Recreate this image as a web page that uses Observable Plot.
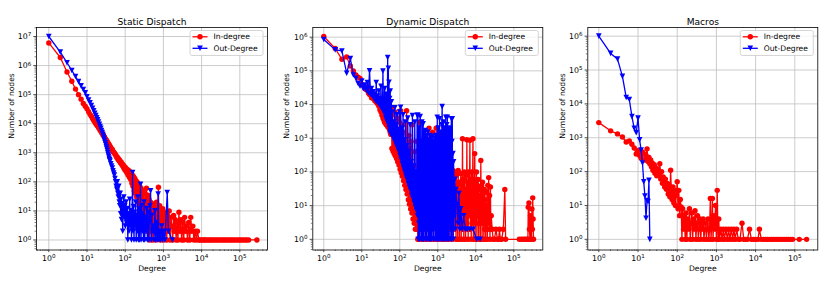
<!DOCTYPE html>
<html><head><meta charset="utf-8">
<script src="https://cdn.jsdelivr.net/npm/d3@7"></script>
<script src="https://cdn.jsdelivr.net/npm/@observablehq/plot@0.6"></script>
<style>
body{margin:0;background:#fff;}
#fig{position:relative;width:831px;height:282px;overflow:hidden;background:#fff;}
.panel{position:absolute;top:0;}
</style></head><body><div id="fig"></div>
<script>
const seriesNames = ["In-degree", "Out-Degree"];
const panelTitles = ["Static Dispatch", "Dynamic Dispatch", "Macros"];
const xLabel = "Degree";
const yLabel = "Number of nodes";
const xTickValues = [1, 10, 100, 1e3, 1e4, 1e5];
const yTickValues7 = [1, 10, 100, 1e3, 1e4, 1e5, 1e6, 1e7];
const yTickValues6 = [1, 10, 100, 1e3, 1e4, 1e5, 1e6];

// Static Dispatch
const staticIn = [[1,6.0e6],[2,1.9e6],[3,6.0e5],[4,2.9e5],[5,1.55e5],[6,1.0e5],[7,7.0e4],[8,5.0e4],[9,4.0e4],[10,3.3e4],[11,2.6e4],[12,2.1e4],[13,1.8e4],[14,1.5e4],[15,1.3e4],[16,1.15e4],[17,1.0e4],[18,9.0e3],[19,8.4e3],[20,7.4e3],[21,6.9e3],[22,6.0e3],[23,5.7e3],[24,5.0e3],[25,4.8e3],[26,4.2e3],[27,4.0e3],[28,3.6e3],[29,3.4e3],[30,3.0e3],[31,2.9e3],[32,2.6e3],[33,2.6e3],[34,2.3e3],[35,2.2e3],[36,2.1e3],[37,1.9e3],[38,1.9e3],[39,1.7e3],[40,1.7e3],[42,1.5e3],[44,1.35e3],[46,1.3e3],[48,1.1e3],[50,1.05e3],[52,980],[54,900],[56,860],[58,760],[60,740],[62,650],[64,680],[66,580],[68,600],[70,520],[72,540],[75,450],[78,480],[80,400],[83,420],[86,350],[89,380],[92,300],[95,340],[98,260],[101,310],[105,230],[108,280],[112,200],[116,260],[120,170],[125,240],[130,140],[135,220],[140,120],[145,200],[150,90],[155,170],[160,70],[166,150],[172,50],[178,130],[185,40],[192,110],[200,30],[208,95],[215,20],[223,80],[232,15],[240,70],[250,12],[260,60],[270,8],[280,50],[290,6],[300,45],[315,4],[330,40],[345,3],[360,60],[375,2],[390,35],[405,3],[420,25],[440,1],[460,20],[480,2],[500,18],[520,1],[545,15],[570,3],[600,12],[630,1],[660,20],[700,3],[740,65],[770,2],[800,15],[840,1],[880,10],[920,2],[960,12],[1000,1],[1050,9],[1100,2],[1160,8],[1220,1],[1280,7],[1350,2],[1420,10],[1500,1],[1580,6],[1660,3],[1750,1],[1850,7],[1950,2],[2050,5],[2150,1],[2280,4],[2400,1],[2550,9],[2700,2],[2850,5],[3000,1],[3200,4],[3400,1],[3600,6],[3800,2],[4000,3],[4300,1],[4600,4],[4900,1],[5200,6],[5500,2],[5900,3],[6300,1],[6800,2],[7300,1],[7800,2],[8500,1],[9000,1],[10000,1],[11000,1],[12000,1],[13000,1],[14500,1],[16000,1],[17500,1],[19500,1],[21500,1],[24000,1],[26500,1],[29500,1],[33000,1],[36500,1],[40500,1],[45000,1],[50000,1],[56000,1],[62000,1],[69000,1],[77000,1],[86000,1],[96000,1],[107000,1],[120000,1],[135000,1],[150000,1],[170000,1],[280000,1]];
const staticOut = [[1,1.0e7],[2,2.9e6],[3,1.25e6],[4,6.8e5],[5,4.2e5],[6,2.8e5],[7,2.0e5],[8,1.5e5],[9,1.15e5],[10,8.5e4],[11,6.5e4],[12,5.2e4],[13,4.2e4],[14,3.4e4],[15,2.8e4],[16,2.3e4],[17,1.9e4],[18,1.6e4],[19,1.35e4],[20,1.15e4],[21,9.5e3],[22,8.0e3],[23,7.0e3],[24,5.8e3],[25,5.0e3],[26,4.2e3],[27,3.6e3],[28,3.1e3],[29,2.6e3],[30,2.2e3],[31,1.9e3],[32,1.6e3],[33,1.4e3],[34,1.2e3],[35,1.0e3],[36,870],[37,760],[38,650],[39,570],[40,520],[42,420],[44,350],[46,300],[48,240],[50,200],[52,170],[54,130],[56,100],[58,70],[60,55],[62,100],[64,40],[66,30],[68,70],[70,20],[72,15],[74,40],[76,8],[78,25],[80,5],[83,18],[86,2],[89,12],[92,30],[95,6],[98,15],[101,3],[105,20],[109,4],[113,12],[117,1],[121,8],[126,2],[131,25],[136,3],[141,10],[146,1],[151,6],[156,210],[160,2],[165,14],[170,1],[176,9],[182,3],[188,20],[194,1],[200,7],[207,2],[214,30],[221,1],[228,12],[236,1],[244,5],[252,83],[260,1],[270,15],[280,2],[290,8],[300,1],[312,20],[325,1],[338,6],[350,2],[365,12],[380,1],[395,9],[410,1],[428,4],[445,15],[462,49],[480,1],[500,7],[520,2],[545,3],[570,1],[600,10],[630,1],[660,4],[700,1],[730,38],[760,1],[800,2],[850,1],[900,3],[950,1],[1000,2],[1100,1],[1260,43],[1350,2],[1720,1]];

// Dynamic Dispatch
const dynamicIn = [[1,1.05e6],[2,4.6e5],[3,2.2e5],[4,2.6e5],[5,1.4e5],[6,1.0e5],[7,7.5e4],[8,6.5e4],[9,6.0e4],[10,4.0e4],[11,3.6e4],[12,3.0e4],[13,2.8e4],[14,3.2e4],[15,2.2e4],[16,2.0e4],[17,2.6e4],[18,1.6e4],[19,1.9e4],[20,1.5e4],[21,2.0e4],[22,1.3e4],[23,1.6e4],[24,1.2e4],[25,1.4e4],[26,1.05e4],[27,1.2e4],[28,9000],[29,1.1e4],[30,7000],[31,1.3e4],[32,6000],[33,9000],[34,4800],[35,1.0e4],[36,4000],[37,8000],[38,3500],[39,7000],[40,3000],[41,9000],[42,2800],[43,6000],[44,2500],[45,1.1e4],[46,3000],[47,7000],[48,2200],[49,5000],[50,2500],[51,8000],[52,2000],[53,5000],[54,1800],[55,6000],[56,1500],[57,4000],[58,1300],[59,3000],[60,8000],[62,500],[64,5000],[66,420],[69,3000],[71,350],[74,6000],[76,300],[79,2000],[82,250],[85,4000],[88,200],[91,1500],[95,160],[98,3000],[102,120],[105,6600],[109,95],[113,1200],[117,75],[122,2500],[126,55],[131,700],[135,40],[140,1500],[145,30],[151,6600],[156,22],[162,500],[168,15],[174,1200],[180,11],[187,300],[193,8],[200,800],[208,6],[215,2500],[223,4],[231,150],[240,3],[248,400],[257,2],[267,90],[276,2],[286,800],[297,1],[308,50],[319,1],[331,3000],[343,2],[355,30],[368,1],[382,200],[396,3],[410,60],[425,1],[441,500],[457,2],[474,800],[491,1],[509,40],[528,2],[547,200],[567,1],[588,2000],[610,3],[632,100],[655,1],[679,600],[704,2],[730,1500],[757,1],[785,80],[814,3],[843,300],[874,1],[906,2000],[940,2],[974,50],[1010,1],[1047,1000],[1085,3],[1125,200],[1167,1],[1209,40],[1254,2],[1300,500],[1348,1],[1397,100],[1449,2],[1502,30],[1557,1],[1614,200],[1674,3],[1735,60],[1799,1],[1865,100],[1933,2],[2004,30],[2078,1],[2154,80],[2233,3],[2315,50],[2400,1],[2488,110],[2580,4],[2650,60],[2720,2],[2790,100],[2860,5],[2940,40],[3020,1],[3100,80],[3180,3],[3260,30],[3350,1],[3440,110],[3530,4],[3620,50],[3720,1],[3820,25],[3920,3],[4020,90],[4130,1],[4240,40],[4350,6],[4470,970],[4590,2],[4710,60],[4840,1],[4970,100],[5100,4],[5240,30],[5380,1],[5520,80],[5670,3],[5820,900],[5980,2],[6140,50],[6300,1],[6470,100],[6640,5],[6820,40],[7000,870],[7190,2],[7380,60],[7580,1],[7780,100],[7990,3],[8200,30],[8420,970],[8650,1],[8880,60],[9120,4],[9360,350],[9610,1],[9870,50],[10130,3],[10400,100],[10680,1],[10970,40],[11260,5],[11560,60],[11870,1],[12190,30],[12520,3],[12850,20],[13200,1],[13550,220],[13910,4],[14280,40],[14670,1],[15060,50],[15460,3],[15880,25],[16300,1],[16740,30],[17190,2],[17650,15],[18120,1],[18610,25],[19110,2],[19620,10],[20150,1],[20690,40],[21240,3],[21810,68],[22400,2],[23000,20],[23620,1],[24250,36],[24900,2],[25500,5],[27000,2],[28500,1],[31000,1],[34000,2],[37000,1],[40000,1],[42000,2],[44000,1],[48000,1],[53000,2],[58000,30],[61000,1],[140000,1],[160000,1],[180000,1],[200000,1],[220000,1],[235000,1],[240000,9],[250000,12],[258000,2],[266000,1],[275000,5],[283000,2],[292000,1],[300000,8],[308000,2],[315000,17],[322000,4],[330000,1]];
const dynamicOut = [[1,8.5e5],[2,4.2e5],[3,3.9e5],[4,8.5e4],[5,2.3e5],[6,7.5e4],[7,6.0e4],[8,4.2e4],[9,3.5e4],[10,5.0e4],[11,3.0e4],[12,3.8e4],[13,2.6e4],[14,4.5e4],[15,2.2e4],[16,1.0e5],[17,2.0e4],[18,3.0e4],[19,1.8e4],[20,2.4e4],[21,1.5e4],[22,2.0e4],[23,1.3e4],[24,4.5e4],[25,1.2e4],[26,1.8e4],[27,1.1e4],[28,2.5e4],[29,1.0e4],[30,1.5e4],[31,9000],[32,3.5e4],[33,8000],[34,1.4e4],[35,7000],[36,9.8e4],[37,8000],[38,1.2e4],[39,6000],[40,3.0e4],[41,5000],[42,1.5e4],[43,4000],[44,2.0e4],[45,3500],[46,1.0e4],[47,3000],[48,2.5e5],[49,4000],[50,1.2e5],[51,2500],[52,4.6e4],[53,2000],[54,1.5e4],[55,1600],[56,2.5e4],[57,1400],[58,8000],[59,1300],[60,1.2e4],[62,1300],[64,6000],[66,1100],[69,3000],[71,900],[74,8000],[76,750],[79,2500],[82,600],[85,5000],[88,500],[91,1800],[95,400],[98,6000],[102,300],[105,8300],[109,230],[113,2000],[117,170],[122,5000],[126,130],[131,900],[135,100],[140,3000],[145,75],[151,600],[156,60],[162,4000],[168,45],[174,400],[180,35],[187,2500],[193,28],[200,200],[208,20],[215,4700],[223,16],[231,150],[240,12],[248,3000],[257,9],[267,100],[276,7],[286,4800],[293,5],[300,4800],[306,1],[312,400],[318,3],[325,2000],[331,1],[338,60],[345,4400],[352,2],[359,800],[366,1],[373,150],[381,3000],[388,1],[396,300],[404,2],[412,2700],[421,1],[429,40],[438,1500],[446,2],[455,500],[465,1],[474,1700],[483,3],[493,100],[503,1],[513,1200],[523,2],[534,20],[545,1500],[555,1],[567,300],[578,2],[590,900],[601,1],[613,60],[626,1200],[638,1],[651,200],[664,3],[677,1000],[691,1],[705,30],[719,1100],[733,2],[748,400],[763,1],[778,800],[794,2],[810,80],[826,1000],[842,1],[859,150],[876,3],[894,1200],[912,1],[930,500],[949,2],[968,4200],[987,1],[1007,100],[1027,2000],[1048,1],[1069,300],[1090,2],[1112,3800],[1134,1],[1157,600],[1180,3],[1204,1500],[1228,1],[1252,60],[1277,2500],[1303,8700],[1329,1],[1356,800],[1383,2],[1410,3000],[1439,1],[1467,200],[1497,2000],[1527,1],[1557,500],[1588,3],[1620,4200],[1653,1],[1686,150],[1720,2500],[1754,1],[1789,4200],[1825,2],[1861,400],[1898,1],[1936,2000],[1975,3],[2015,100],[2055,1500],[2096,1],[2138,1900],[2181,2],[2224,300],[2269,3800],[2314,1],[2360,800],[2408,3800],[2456,2],[2505,350],[2555,1],[2606,200],[2700,5],[2800,60],[2900,2],[3000,30],[3200,11],[3400,3],[3600,23],[3800,2],[4000,8],[4400,2],[4800,5],[5300,2],[5900,2],[7000,2],[8500,2],[10500,1],[13000,1]];

// Macros
const macrosIn = [[1,2800],[2,1600],[3,1300],[4,1050],[5,750],[6,800],[7,640],[8,500],[9,330],[10,420],[11,300],[12,250],[13,380],[14,340],[15,220],[16,300],[17,470],[18,200],[19,260],[20,170],[21,220],[22,140],[23,180],[24,110],[25,125],[26,160],[27,90],[28,130],[29,100],[30,75],[32,120],[34,80],[36,170],[38,60],[40,100],[42,45],[44,70],[46,56],[48,35],[50,60],[53,30],[56,45],[59,22],[62,40],[65,18],[68,110],[71,25],[74,15],[78,35],[82,12],[86,28],[90,10],[95,20],[100,50],[105,8],[110,28],[115,5],[120,15],[126,9],[132,1],[138,8],[145,2],[152,5],[160,1],[168,6],[176,1],[185,4],[195,2],[205,8],[215,1],[225,3],[236,6],[248,1],[260,4],[272,2],[285,7],[300,1],[315,3],[330,5],[345,1],[360,2],[380,4],[400,1],[420,3],[440,2],[460,4],[480,1],[505,2],[530,3],[555,1],[580,2],[610,4],[640,1],[670,2],[700,16],[730,1],[760,3],[790,16],[820,1],[860,5],[900,2],[950,10],[1000,1],[1050,28],[1100,1],[1150,4],[1200,1],[1300,2],[1400,1],[1500,2],[1600,1],[1750,2],[1900,1],[2050,2],[2200,1],[2400,2],[2600,1],[2800,2],[3000,1],[3300,2],[3600,1],[4000,1],[4500,3],[5000,1],[5500,1],[6200,1],[7000,2],[7800,1],[8800,1],[10000,1],[11500,1],[12500,2],[14000,1],[16000,1],[18000,1],[20000,1],[23000,1],[26000,1],[29000,1],[33000,1],[37000,1],[42000,1],[48000,1],[54000,1],[61000,1],[69000,1],[78000,1],[88000,1],[130000,1],[200000,1]];
const macrosOut = [[1,1.0e6],[2,3.1e5],[3,2.1e5],[4,6.5e4],[5,1.55e4],[6,1.35e4],[7,4.2e3],[8,1.9e3],[9,1.4e3],[10,3.8e3],[11,870],[12,430],[13,180],[14,50],[15,19],[16,4.2],[17,14],[18,13],[19,55],[20,1]];

const rows = pairs => pairs.map(([d, c]) => ({d, c}));
const fmtPow = v => "10^" + Math.round(Math.log10(v));
function minorTicks(lo, hi) {
  const out = [];
  for (let e = Math.floor(Math.log10(lo)); e <= Math.ceil(Math.log10(hi)); e++)
    for (let k = 2; k <= 9; k++) { const v = k * Math.pow(10, e); if (v >= lo && v <= hi) out.push(v); }
  return out;
}
const triangleDown = {draw(ctx, size) { const r = Math.sqrt(size / Math.PI); ctx.moveTo(-r, -r); ctx.lineTo(r, -r); ctx.lineTo(0, r); ctx.closePath(); }};

const RED = "#ff0000", BLUE = "#0000ff";
const LW = 1.3, RC = 2.7, RT = 2.8;
const panels = [
  {left: 0, ml: 36, mr: 10, xdom: [-0.322, 5.725], ydom: [-0.345, 7.31], yTicks: yTickValues7, inD: staticIn, outD: staticOut, title: panelTitles[0], ydx: -25},
  {left: 277, ml: 35.3, mr: 11.7, xdom: [-0.289, 5.763], ydom: [-0.317, 6.287], yTicks: yTickValues6, inD: dynamicIn, outD: dynamicOut, title: panelTitles[1], ydx: -26},
  {left: 554, ml: 33.3, mr: 13.7, xdom: [-0.281, 5.587], ydom: [-0.315, 6.256], yTicks: yTickValues6, inD: macrosIn, outD: macrosOut, title: panelTitles[2], ydx: -25.6}
];
const W = 277, H = 282, MT = 27, MB = 32.5;
const fig = document.getElementById("fig");

for (const p of panels) {
  const xd = p.xdom.map(v => Math.pow(10, v)), yd = p.ydom.map(v => Math.pow(10, v));
  const inR = rows(p.inD), outR = rows(p.outD);
  const chart = Plot.plot({
    width: W, height: H, marginLeft: p.ml, marginRight: p.mr, marginTop: MT, marginBottom: MB,
    x: {type: "log", domain: xd, axis: null},
    y: {type: "log", domain: yd, axis: null},
    style: {fontFamily: "'DejaVu Sans', sans-serif", fontSize: "7.6px", color: "#000", background: "transparent", overflow: "visible"},
    marks: [
      Plot.gridX(xTickValues, {stroke: "#bfbfbf", strokeOpacity: 1, strokeWidth: 0.8}),
      Plot.gridY(p.yTicks, {stroke: "#bfbfbf", strokeOpacity: 1, strokeWidth: 0.8}),
      Plot.line(inR, {x: "d", y: "c", stroke: RED, strokeWidth: LW}),
      Plot.dot(inR, {x: "d", y: "c", r: RC, fill: RED}),
      Plot.line(outR, {x: "d", y: "c", stroke: BLUE, strokeWidth: LW}),
      Plot.dot(outR, {x: "d", y: "c", r: RT, fill: BLUE, symbol: triangleDown}),
      Plot.frame({stroke: "#000", strokeWidth: 0.8}),
      Plot.axisX({ticks: xTickValues, anchor: "bottom", tickSize: 2.7, tickPadding: 2.5, tickFormat: fmtPow, label: null, strokeWidth: 0.7, fontSize: 7.8}),
      Plot.axisX({ticks: minorTicks(xd[0], xd[1]), anchor: "bottom", tickSize: 1.5, tickFormat: () => "", label: null, strokeWidth: 0.5}),
      Plot.axisY({ticks: p.yTicks, anchor: "left", tickSize: 2.7, tickPadding: 2.5, tickFormat: fmtPow, label: null, strokeWidth: 0.7, fontSize: 7.8}),
      Plot.axisY({ticks: minorTicks(yd[0], yd[1]), anchor: "left", tickSize: 1.5, tickFormat: () => "", label: null, strokeWidth: 0.5}),
      Plot.text([p.title], {text: d => d, frameAnchor: "top", dy: -9, fontSize: 9.1}),
      Plot.text([xLabel], {text: d => d, frameAnchor: "bottom", dy: 20.5, fontSize: 7.6}),
      Plot.text([yLabel], {text: d => d, frameAnchor: "left", rotate: -90, dx: p.ydx, fontSize: 7.6})
    ]
  });
  // superscript tick labels like 10^k
  d3.select(chart).selectAll("text").each(function() {
    const m = this.textContent.match(/^10\^(\d+)$/);
    if (m) {
      this.textContent = "10";
      d3.select(this).append("tspan").attr("dy", "-0.45em").attr("font-size", "0.72em").text(m[1]);
    }
  });
  // legend
  const right = W - p.mr;
  const g = d3.select(chart).append("g").attr("text-anchor", "start");
  const bx = right - 77, by = MT + 3.5;
  g.append("rect").attr("x", bx).attr("y", by).attr("width", 73).attr("height", 25).attr("rx", 2)
    .attr("fill", "#fff").attr("fill-opacity", 0.8).attr("stroke", "#cccccc").attr("stroke-width", 0.8);
  const items = [{label: seriesNames[0], color: RED, sym: "circle", y: MT + 9.8}, {label: seriesNames[1], color: BLUE, sym: "tri", y: MT + 21.3}];
  for (const it of items) {
    g.append("line").attr("x1", bx + 2.5).attr("x2", bx + 17.5).attr("y1", it.y).attr("y2", it.y).attr("stroke", it.color).attr("stroke-width", LW);
    const mx = bx + 10;
    if (it.sym === "circle") g.append("circle").attr("cx", mx).attr("cy", it.y).attr("r", RC).attr("fill", it.color);
    else g.append("path").attr("d", `M${mx-RT},${it.y-RT}L${mx+RT},${it.y-RT}L${mx},${it.y+RT}Z`).attr("fill", it.color);
    g.append("text").attr("x", bx + 23.5).attr("y", it.y).attr("dy", "0.35em").attr("text-anchor", "start").attr("font-size", 7.6).attr("fill", "#000").text(it.label);
  }
  const div = document.createElement("div");
  div.className = "panel";
  div.style.left = p.left + "px";
  div.appendChild(chart);
  fig.appendChild(div);
}
</script></body></html>
